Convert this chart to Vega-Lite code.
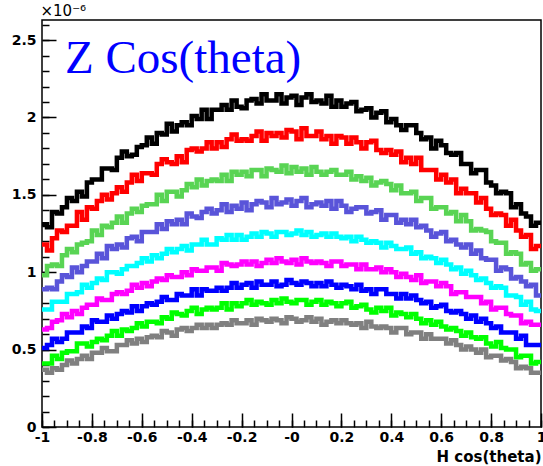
{
"$schema":"https://vega.github.io/schema/vega-lite/v6.json",
"width":499,"height":407,
"autosize":{"type":"none"},
"padding":{"left":42,"top":20,"right":2,"bottom":39},
"background":"white",
"title":{"text":"Z Cos(theta)","anchor":"start","frame":"group","orient":"top","offset":-57,"dx":23,"dy":60,"baseline":"alphabetic","font":"Liberation Serif","fontSize":47,"fontWeight":"normal","color":"#0000ff"},
"config":{"view":{"stroke":"black","strokeWidth":1.5}},
"datasets":{
"black":[{"x":-1,"y":1.31},{"x":-0.98,"y":1.29},{"x":-0.96,"y":1.39},{"x":-0.94,"y":1.38},{"x":-0.92,"y":1.42},{"x":-0.9,"y":1.48},{"x":-0.88,"y":1.46},{"x":-0.86,"y":1.52},{"x":-0.84,"y":1.49},{"x":-0.82,"y":1.58},{"x":-0.8,"y":1.60},{"x":-0.78,"y":1.60},{"x":-0.76,"y":1.67},{"x":-0.74,"y":1.67},{"x":-0.72,"y":1.66},{"x":-0.7,"y":1.74},{"x":-0.68,"y":1.78},{"x":-0.66,"y":1.75},{"x":-0.64,"y":1.76},{"x":-0.62,"y":1.81},{"x":-0.6,"y":1.82},{"x":-0.58,"y":1.87},{"x":-0.56,"y":1.83},{"x":-0.54,"y":1.90},{"x":-0.52,"y":1.89},{"x":-0.5,"y":1.96},{"x":-0.48,"y":1.91},{"x":-0.46,"y":1.95},{"x":-0.44,"y":1.97},{"x":-0.42,"y":1.95},{"x":-0.4,"y":2.01},{"x":-0.38,"y":1.99},{"x":-0.36,"y":2.05},{"x":-0.34,"y":1.99},{"x":-0.32,"y":2.05},{"x":-0.3,"y":2.05},{"x":-0.28,"y":2.08},{"x":-0.26,"y":2.05},{"x":-0.24,"y":2.11},{"x":-0.22,"y":2.07},{"x":-0.2,"y":2.06},{"x":-0.18,"y":2.11},{"x":-0.16,"y":2.12},{"x":-0.14,"y":2.09},{"x":-0.12,"y":2.15},{"x":-0.1,"y":2.11},{"x":-0.08,"y":2.11},{"x":-0.06,"y":2.15},{"x":-0.04,"y":2.09},{"x":-0.02,"y":2.13},{"x":0,"y":2.14},{"x":0.02,"y":2.08},{"x":0.04,"y":2.13},{"x":0.06,"y":2.15},{"x":0.08,"y":2.10},{"x":0.1,"y":2.11},{"x":0.12,"y":2.09},{"x":0.14,"y":2.14},{"x":0.16,"y":2.07},{"x":0.18,"y":2.11},{"x":0.2,"y":2.07},{"x":0.22,"y":2.09},{"x":0.24,"y":2.10},{"x":0.26,"y":2.04},{"x":0.28,"y":2.05},{"x":0.3,"y":2.06},{"x":0.32,"y":2.00},{"x":0.34,"y":2.03},{"x":0.36,"y":2.04},{"x":0.38,"y":1.97},{"x":0.4,"y":1.99},{"x":0.42,"y":1.95},{"x":0.44,"y":1.92},{"x":0.46,"y":1.95},{"x":0.48,"y":1.95},{"x":0.5,"y":1.90},{"x":0.52,"y":1.86},{"x":0.54,"y":1.87},{"x":0.56,"y":1.80},{"x":0.58,"y":1.85},{"x":0.6,"y":1.82},{"x":0.62,"y":1.77},{"x":0.64,"y":1.76},{"x":0.66,"y":1.77},{"x":0.68,"y":1.70},{"x":0.7,"y":1.70},{"x":0.72,"y":1.64},{"x":0.74,"y":1.66},{"x":0.76,"y":1.66},{"x":0.78,"y":1.58},{"x":0.8,"y":1.56},{"x":0.82,"y":1.51},{"x":0.84,"y":1.52},{"x":0.86,"y":1.51},{"x":0.88,"y":1.42},{"x":0.9,"y":1.44},{"x":0.92,"y":1.38},{"x":0.94,"y":1.36},{"x":0.96,"y":1.30},{"x":0.98,"y":1.32},{"x":1,"y":1.32}],
"red":[{"x":-1,"y":1.18},{"x":-0.98,"y":1.14},{"x":-0.96,"y":1.22},{"x":-0.94,"y":1.27},{"x":-0.92,"y":1.26},{"x":-0.9,"y":1.30},{"x":-0.88,"y":1.30},{"x":-0.86,"y":1.39},{"x":-0.84,"y":1.34},{"x":-0.82,"y":1.42},{"x":-0.8,"y":1.41},{"x":-0.78,"y":1.46},{"x":-0.76,"y":1.50},{"x":-0.74,"y":1.47},{"x":-0.72,"y":1.51},{"x":-0.7,"y":1.55},{"x":-0.68,"y":1.52},{"x":-0.66,"y":1.58},{"x":-0.64,"y":1.63},{"x":-0.62,"y":1.59},{"x":-0.6,"y":1.64},{"x":-0.58,"y":1.64},{"x":-0.56,"y":1.63},{"x":-0.54,"y":1.70},{"x":-0.52,"y":1.73},{"x":-0.5,"y":1.71},{"x":-0.48,"y":1.70},{"x":-0.46,"y":1.75},{"x":-0.44,"y":1.71},{"x":-0.42,"y":1.79},{"x":-0.4,"y":1.80},{"x":-0.38,"y":1.78},{"x":-0.36,"y":1.80},{"x":-0.34,"y":1.84},{"x":-0.32,"y":1.80},{"x":-0.3,"y":1.84},{"x":-0.28,"y":1.81},{"x":-0.26,"y":1.86},{"x":-0.24,"y":1.89},{"x":-0.22,"y":1.85},{"x":-0.2,"y":1.86},{"x":-0.18,"y":1.85},{"x":-0.16,"y":1.88},{"x":-0.14,"y":1.91},{"x":-0.12,"y":1.85},{"x":-0.1,"y":1.90},{"x":-0.08,"y":1.88},{"x":-0.06,"y":1.90},{"x":-0.04,"y":1.87},{"x":-0.02,"y":1.92},{"x":0,"y":1.91},{"x":0.02,"y":1.86},{"x":0.04,"y":1.93},{"x":0.06,"y":1.88},{"x":0.08,"y":1.88},{"x":0.1,"y":1.91},{"x":0.12,"y":1.86},{"x":0.14,"y":1.88},{"x":0.16,"y":1.83},{"x":0.18,"y":1.88},{"x":0.2,"y":1.87},{"x":0.22,"y":1.83},{"x":0.24,"y":1.87},{"x":0.26,"y":1.84},{"x":0.28,"y":1.80},{"x":0.3,"y":1.84},{"x":0.32,"y":1.85},{"x":0.34,"y":1.79},{"x":0.36,"y":1.77},{"x":0.38,"y":1.79},{"x":0.4,"y":1.76},{"x":0.42,"y":1.78},{"x":0.44,"y":1.71},{"x":0.46,"y":1.74},{"x":0.48,"y":1.70},{"x":0.5,"y":1.74},{"x":0.52,"y":1.66},{"x":0.54,"y":1.66},{"x":0.56,"y":1.66},{"x":0.58,"y":1.60},{"x":0.6,"y":1.63},{"x":0.62,"y":1.58},{"x":0.64,"y":1.60},{"x":0.66,"y":1.51},{"x":0.68,"y":1.54},{"x":0.7,"y":1.51},{"x":0.72,"y":1.51},{"x":0.74,"y":1.45},{"x":0.76,"y":1.48},{"x":0.78,"y":1.41},{"x":0.8,"y":1.37},{"x":0.82,"y":1.38},{"x":0.84,"y":1.37},{"x":0.86,"y":1.30},{"x":0.88,"y":1.34},{"x":0.9,"y":1.27},{"x":0.92,"y":1.23},{"x":0.94,"y":1.24},{"x":0.96,"y":1.15},{"x":0.98,"y":1.17},{"x":1,"y":1.17}],
"green8":[{"x":-1,"y":0.98},{"x":-0.98,"y":1.04},{"x":-0.96,"y":1.05},{"x":-0.94,"y":1.04},{"x":-0.92,"y":1.11},{"x":-0.9,"y":1.15},{"x":-0.88,"y":1.13},{"x":-0.86,"y":1.18},{"x":-0.84,"y":1.19},{"x":-0.82,"y":1.20},{"x":-0.8,"y":1.27},{"x":-0.78,"y":1.24},{"x":-0.76,"y":1.30},{"x":-0.74,"y":1.29},{"x":-0.72,"y":1.32},{"x":-0.7,"y":1.36},{"x":-0.68,"y":1.32},{"x":-0.66,"y":1.38},{"x":-0.64,"y":1.41},{"x":-0.62,"y":1.39},{"x":-0.6,"y":1.43},{"x":-0.58,"y":1.44},{"x":-0.56,"y":1.44},{"x":-0.54,"y":1.50},{"x":-0.52,"y":1.46},{"x":-0.5,"y":1.52},{"x":-0.48,"y":1.52},{"x":-0.46,"y":1.49},{"x":-0.44,"y":1.53},{"x":-0.42,"y":1.57},{"x":-0.4,"y":1.55},{"x":-0.38,"y":1.60},{"x":-0.36,"y":1.56},{"x":-0.34,"y":1.59},{"x":-0.32,"y":1.60},{"x":-0.3,"y":1.59},{"x":-0.28,"y":1.63},{"x":-0.26,"y":1.59},{"x":-0.24,"y":1.65},{"x":-0.22,"y":1.63},{"x":-0.2,"y":1.65},{"x":-0.18,"y":1.62},{"x":-0.16,"y":1.66},{"x":-0.14,"y":1.66},{"x":-0.12,"y":1.62},{"x":-0.1,"y":1.67},{"x":-0.08,"y":1.66},{"x":-0.06,"y":1.65},{"x":-0.04,"y":1.69},{"x":-0.02,"y":1.64},{"x":0,"y":1.68},{"x":0.02,"y":1.65},{"x":0.04,"y":1.67},{"x":0.06,"y":1.63},{"x":0.08,"y":1.68},{"x":0.1,"y":1.65},{"x":0.12,"y":1.63},{"x":0.14,"y":1.65},{"x":0.16,"y":1.66},{"x":0.18,"y":1.63},{"x":0.2,"y":1.63},{"x":0.22,"y":1.65},{"x":0.24,"y":1.60},{"x":0.26,"y":1.62},{"x":0.28,"y":1.59},{"x":0.3,"y":1.61},{"x":0.32,"y":1.56},{"x":0.34,"y":1.58},{"x":0.36,"y":1.59},{"x":0.38,"y":1.57},{"x":0.4,"y":1.53},{"x":0.42,"y":1.56},{"x":0.44,"y":1.51},{"x":0.46,"y":1.51},{"x":0.48,"y":1.52},{"x":0.5,"y":1.46},{"x":0.52,"y":1.48},{"x":0.54,"y":1.48},{"x":0.56,"y":1.41},{"x":0.58,"y":1.42},{"x":0.6,"y":1.42},{"x":0.62,"y":1.38},{"x":0.64,"y":1.39},{"x":0.66,"y":1.33},{"x":0.68,"y":1.37},{"x":0.7,"y":1.33},{"x":0.72,"y":1.27},{"x":0.74,"y":1.28},{"x":0.76,"y":1.27},{"x":0.78,"y":1.26},{"x":0.8,"y":1.20},{"x":0.82,"y":1.19},{"x":0.84,"y":1.19},{"x":0.86,"y":1.12},{"x":0.88,"y":1.13},{"x":0.9,"y":1.12},{"x":0.92,"y":1.05},{"x":0.94,"y":1.06},{"x":0.96,"y":1.01},{"x":0.98,"y":1.02},{"x":1,"y":1.02}],
"purple":[{"x":-1,"y":0.89},{"x":-0.98,"y":0.90},{"x":-0.96,"y":0.89},{"x":-0.94,"y":0.94},{"x":-0.92,"y":0.98},{"x":-0.9,"y":0.97},{"x":-0.88,"y":1.03},{"x":-0.86,"y":1.00},{"x":-0.84,"y":1.04},{"x":-0.82,"y":1.07},{"x":-0.8,"y":1.07},{"x":-0.78,"y":1.12},{"x":-0.76,"y":1.09},{"x":-0.74,"y":1.17},{"x":-0.72,"y":1.15},{"x":-0.7,"y":1.18},{"x":-0.68,"y":1.16},{"x":-0.66,"y":1.22},{"x":-0.64,"y":1.23},{"x":-0.62,"y":1.20},{"x":-0.6,"y":1.26},{"x":-0.58,"y":1.26},{"x":-0.56,"y":1.26},{"x":-0.54,"y":1.31},{"x":-0.52,"y":1.28},{"x":-0.5,"y":1.33},{"x":-0.48,"y":1.31},{"x":-0.46,"y":1.34},{"x":-0.44,"y":1.31},{"x":-0.42,"y":1.38},{"x":-0.4,"y":1.36},{"x":-0.38,"y":1.35},{"x":-0.36,"y":1.39},{"x":-0.34,"y":1.41},{"x":-0.32,"y":1.38},{"x":-0.3,"y":1.40},{"x":-0.28,"y":1.44},{"x":-0.26,"y":1.39},{"x":-0.24,"y":1.43},{"x":-0.22,"y":1.41},{"x":-0.2,"y":1.45},{"x":-0.18,"y":1.40},{"x":-0.16,"y":1.44},{"x":-0.14,"y":1.46},{"x":-0.12,"y":1.45},{"x":-0.1,"y":1.42},{"x":-0.08,"y":1.48},{"x":-0.06,"y":1.44},{"x":-0.04,"y":1.45},{"x":-0.02,"y":1.47},{"x":0,"y":1.43},{"x":0.02,"y":1.46},{"x":0.04,"y":1.48},{"x":0.06,"y":1.42},{"x":0.08,"y":1.44},{"x":0.1,"y":1.45},{"x":0.12,"y":1.43},{"x":0.14,"y":1.46},{"x":0.16,"y":1.41},{"x":0.18,"y":1.46},{"x":0.2,"y":1.43},{"x":0.22,"y":1.39},{"x":0.24,"y":1.41},{"x":0.26,"y":1.42},{"x":0.28,"y":1.42},{"x":0.3,"y":1.38},{"x":0.32,"y":1.39},{"x":0.34,"y":1.40},{"x":0.36,"y":1.34},{"x":0.38,"y":1.37},{"x":0.4,"y":1.37},{"x":0.42,"y":1.32},{"x":0.44,"y":1.34},{"x":0.46,"y":1.31},{"x":0.48,"y":1.34},{"x":0.5,"y":1.29},{"x":0.52,"y":1.30},{"x":0.54,"y":1.27},{"x":0.56,"y":1.23},{"x":0.58,"y":1.25},{"x":0.6,"y":1.26},{"x":0.62,"y":1.20},{"x":0.64,"y":1.21},{"x":0.66,"y":1.18},{"x":0.68,"y":1.16},{"x":0.7,"y":1.18},{"x":0.72,"y":1.12},{"x":0.74,"y":1.14},{"x":0.76,"y":1.09},{"x":0.78,"y":1.08},{"x":0.8,"y":1.08},{"x":0.82,"y":1.01},{"x":0.84,"y":1.03},{"x":0.86,"y":1.02},{"x":0.88,"y":0.96},{"x":0.9,"y":0.97},{"x":0.92,"y":0.94},{"x":0.94,"y":0.91},{"x":0.96,"y":0.92},{"x":0.98,"y":0.85},{"x":1,"y":0.85}],
"cyan":[{"x":-1,"y":0.76},{"x":-0.98,"y":0.76},{"x":-0.96,"y":0.81},{"x":-0.94,"y":0.81},{"x":-0.92,"y":0.81},{"x":-0.9,"y":0.86},{"x":-0.88,"y":0.86},{"x":-0.86,"y":0.87},{"x":-0.84,"y":0.92},{"x":-0.82,"y":0.90},{"x":-0.8,"y":0.93},{"x":-0.78,"y":0.96},{"x":-0.76,"y":0.95},{"x":-0.74,"y":1.00},{"x":-0.72,"y":1.00},{"x":-0.7,"y":0.99},{"x":-0.68,"y":1.02},{"x":-0.66,"y":1.04},{"x":-0.64,"y":1.04},{"x":-0.62,"y":1.06},{"x":-0.6,"y":1.09},{"x":-0.58,"y":1.07},{"x":-0.56,"y":1.11},{"x":-0.54,"y":1.09},{"x":-0.52,"y":1.12},{"x":-0.5,"y":1.15},{"x":-0.48,"y":1.13},{"x":-0.46,"y":1.15},{"x":-0.44,"y":1.17},{"x":-0.42,"y":1.14},{"x":-0.4,"y":1.18},{"x":-0.38,"y":1.18},{"x":-0.36,"y":1.21},{"x":-0.34,"y":1.18},{"x":-0.32,"y":1.18},{"x":-0.3,"y":1.22},{"x":-0.28,"y":1.21},{"x":-0.26,"y":1.24},{"x":-0.24,"y":1.21},{"x":-0.22,"y":1.24},{"x":-0.2,"y":1.21},{"x":-0.18,"y":1.23},{"x":-0.16,"y":1.25},{"x":-0.14,"y":1.23},{"x":-0.12,"y":1.26},{"x":-0.1,"y":1.25},{"x":-0.08,"y":1.23},{"x":-0.06,"y":1.26},{"x":-0.04,"y":1.26},{"x":-0.02,"y":1.24},{"x":0,"y":1.25},{"x":0.02,"y":1.27},{"x":0.04,"y":1.24},{"x":0.06,"y":1.26},{"x":0.08,"y":1.23},{"x":0.1,"y":1.24},{"x":0.12,"y":1.25},{"x":0.14,"y":1.23},{"x":0.16,"y":1.25},{"x":0.18,"y":1.23},{"x":0.2,"y":1.22},{"x":0.22,"y":1.23},{"x":0.24,"y":1.20},{"x":0.26,"y":1.23},{"x":0.28,"y":1.21},{"x":0.3,"y":1.19},{"x":0.32,"y":1.20},{"x":0.34,"y":1.19},{"x":0.36,"y":1.16},{"x":0.38,"y":1.19},{"x":0.4,"y":1.17},{"x":0.42,"y":1.15},{"x":0.44,"y":1.15},{"x":0.46,"y":1.16},{"x":0.48,"y":1.12},{"x":0.5,"y":1.13},{"x":0.52,"y":1.09},{"x":0.54,"y":1.10},{"x":0.56,"y":1.09},{"x":0.58,"y":1.06},{"x":0.6,"y":1.08},{"x":0.62,"y":1.05},{"x":0.64,"y":1.02},{"x":0.66,"y":1.03},{"x":0.68,"y":0.99},{"x":0.7,"y":1.01},{"x":0.72,"y":0.98},{"x":0.74,"y":0.95},{"x":0.76,"y":0.96},{"x":0.78,"y":0.93},{"x":0.8,"y":0.90},{"x":0.82,"y":0.91},{"x":0.84,"y":0.90},{"x":0.86,"y":0.85},{"x":0.88,"y":0.85},{"x":0.9,"y":0.84},{"x":0.92,"y":0.79},{"x":0.94,"y":0.81},{"x":0.96,"y":0.76},{"x":0.98,"y":0.75},{"x":1,"y":0.75}],
"magenta":[{"x":-1,"y":0.63},{"x":-0.98,"y":0.64},{"x":-0.96,"y":0.68},{"x":-0.94,"y":0.69},{"x":-0.92,"y":0.73},{"x":-0.9,"y":0.71},{"x":-0.88,"y":0.75},{"x":-0.86,"y":0.73},{"x":-0.84,"y":0.77},{"x":-0.82,"y":0.79},{"x":-0.8,"y":0.79},{"x":-0.78,"y":0.83},{"x":-0.76,"y":0.82},{"x":-0.74,"y":0.82},{"x":-0.72,"y":0.86},{"x":-0.7,"y":0.87},{"x":-0.68,"y":0.86},{"x":-0.66,"y":0.88},{"x":-0.64,"y":0.92},{"x":-0.62,"y":0.90},{"x":-0.6,"y":0.93},{"x":-0.58,"y":0.91},{"x":-0.56,"y":0.94},{"x":-0.54,"y":0.96},{"x":-0.52,"y":0.95},{"x":-0.5,"y":0.98},{"x":-0.48,"y":0.97},{"x":-0.46,"y":0.97},{"x":-0.44,"y":1.00},{"x":-0.42,"y":0.98},{"x":-0.4,"y":1.02},{"x":-0.38,"y":1.01},{"x":-0.36,"y":1.01},{"x":-0.34,"y":1.03},{"x":-0.32,"y":1.03},{"x":-0.3,"y":1.01},{"x":-0.28,"y":1.06},{"x":-0.26,"y":1.05},{"x":-0.24,"y":1.04},{"x":-0.22,"y":1.05},{"x":-0.2,"y":1.07},{"x":-0.18,"y":1.05},{"x":-0.16,"y":1.07},{"x":-0.14,"y":1.04},{"x":-0.12,"y":1.06},{"x":-0.1,"y":1.08},{"x":-0.08,"y":1.06},{"x":-0.06,"y":1.09},{"x":-0.04,"y":1.07},{"x":-0.02,"y":1.06},{"x":0,"y":1.08},{"x":0.02,"y":1.05},{"x":0.04,"y":1.09},{"x":0.06,"y":1.07},{"x":0.08,"y":1.06},{"x":0.1,"y":1.07},{"x":0.12,"y":1.06},{"x":0.14,"y":1.04},{"x":0.16,"y":1.07},{"x":0.18,"y":1.07},{"x":0.2,"y":1.04},{"x":0.22,"y":1.05},{"x":0.24,"y":1.05},{"x":0.26,"y":1.02},{"x":0.28,"y":1.05},{"x":0.3,"y":1.02},{"x":0.32,"y":1.02},{"x":0.34,"y":1.03},{"x":0.36,"y":1.00},{"x":0.38,"y":1.02},{"x":0.4,"y":1.00},{"x":0.42,"y":0.97},{"x":0.44,"y":0.99},{"x":0.46,"y":0.97},{"x":0.48,"y":0.95},{"x":0.5,"y":0.98},{"x":0.52,"y":0.93},{"x":0.54,"y":0.94},{"x":0.56,"y":0.94},{"x":0.58,"y":0.91},{"x":0.6,"y":0.93},{"x":0.62,"y":0.91},{"x":0.64,"y":0.86},{"x":0.66,"y":0.87},{"x":0.68,"y":0.87},{"x":0.7,"y":0.84},{"x":0.72,"y":0.84},{"x":0.74,"y":0.84},{"x":0.76,"y":0.80},{"x":0.78,"y":0.81},{"x":0.8,"y":0.76},{"x":0.82,"y":0.77},{"x":0.84,"y":0.77},{"x":0.86,"y":0.73},{"x":0.88,"y":0.72},{"x":0.9,"y":0.72},{"x":0.92,"y":0.67},{"x":0.94,"y":0.68},{"x":0.96,"y":0.66},{"x":0.98,"y":0.66},{"x":1,"y":0.66}],
"blue":[{"x":-1,"y":0.51},{"x":-0.98,"y":0.53},{"x":-0.96,"y":0.57},{"x":-0.94,"y":0.55},{"x":-0.92,"y":0.57},{"x":-0.9,"y":0.61},{"x":-0.88,"y":0.61},{"x":-0.86,"y":0.61},{"x":-0.84,"y":0.65},{"x":-0.82,"y":0.64},{"x":-0.8,"y":0.69},{"x":-0.78,"y":0.68},{"x":-0.76,"y":0.68},{"x":-0.74,"y":0.72},{"x":-0.72,"y":0.70},{"x":-0.7,"y":0.73},{"x":-0.68,"y":0.75},{"x":-0.66,"y":0.74},{"x":-0.64,"y":0.78},{"x":-0.62,"y":0.75},{"x":-0.6,"y":0.78},{"x":-0.58,"y":0.80},{"x":-0.56,"y":0.79},{"x":-0.54,"y":0.81},{"x":-0.52,"y":0.84},{"x":-0.5,"y":0.82},{"x":-0.48,"y":0.82},{"x":-0.46,"y":0.86},{"x":-0.44,"y":0.85},{"x":-0.42,"y":0.85},{"x":-0.4,"y":0.89},{"x":-0.38,"y":0.85},{"x":-0.36,"y":0.89},{"x":-0.34,"y":0.88},{"x":-0.32,"y":0.88},{"x":-0.3,"y":0.90},{"x":-0.28,"y":0.88},{"x":-0.26,"y":0.90},{"x":-0.24,"y":0.93},{"x":-0.22,"y":0.90},{"x":-0.2,"y":0.92},{"x":-0.18,"y":0.93},{"x":-0.16,"y":0.90},{"x":-0.14,"y":0.94},{"x":-0.12,"y":0.92},{"x":-0.1,"y":0.92},{"x":-0.08,"y":0.94},{"x":-0.06,"y":0.91},{"x":-0.04,"y":0.92},{"x":-0.02,"y":0.95},{"x":0,"y":0.93},{"x":0.02,"y":0.92},{"x":0.04,"y":0.94},{"x":0.06,"y":0.93},{"x":0.08,"y":0.91},{"x":0.1,"y":0.93},{"x":0.12,"y":0.91},{"x":0.14,"y":0.94},{"x":0.16,"y":0.92},{"x":0.18,"y":0.90},{"x":0.2,"y":0.92},{"x":0.22,"y":0.91},{"x":0.24,"y":0.89},{"x":0.26,"y":0.92},{"x":0.28,"y":0.88},{"x":0.3,"y":0.89},{"x":0.32,"y":0.86},{"x":0.34,"y":0.89},{"x":0.36,"y":0.89},{"x":0.38,"y":0.86},{"x":0.4,"y":0.86},{"x":0.42,"y":0.83},{"x":0.44,"y":0.86},{"x":0.46,"y":0.83},{"x":0.48,"y":0.85},{"x":0.5,"y":0.82},{"x":0.52,"y":0.80},{"x":0.54,"y":0.81},{"x":0.56,"y":0.77},{"x":0.58,"y":0.78},{"x":0.6,"y":0.79},{"x":0.62,"y":0.75},{"x":0.64,"y":0.74},{"x":0.66,"y":0.75},{"x":0.68,"y":0.73},{"x":0.7,"y":0.70},{"x":0.72,"y":0.72},{"x":0.74,"y":0.68},{"x":0.76,"y":0.70},{"x":0.78,"y":0.67},{"x":0.8,"y":0.64},{"x":0.82,"y":0.65},{"x":0.84,"y":0.61},{"x":0.86,"y":0.61},{"x":0.88,"y":0.61},{"x":0.9,"y":0.57},{"x":0.92,"y":0.59},{"x":0.94,"y":0.53},{"x":0.96,"y":0.53},{"x":0.98,"y":0.53},{"x":1,"y":0.53}],
"green":[{"x":-1,"y":0.41},{"x":-0.98,"y":0.41},{"x":-0.96,"y":0.46},{"x":-0.94,"y":0.44},{"x":-0.92,"y":0.48},{"x":-0.9,"y":0.49},{"x":-0.88,"y":0.49},{"x":-0.86,"y":0.54},{"x":-0.84,"y":0.54},{"x":-0.82,"y":0.52},{"x":-0.8,"y":0.55},{"x":-0.78,"y":0.57},{"x":-0.76,"y":0.56},{"x":-0.74,"y":0.59},{"x":-0.72,"y":0.62},{"x":-0.7,"y":0.59},{"x":-0.68,"y":0.63},{"x":-0.66,"y":0.62},{"x":-0.64,"y":0.64},{"x":-0.62,"y":0.67},{"x":-0.6,"y":0.65},{"x":-0.58,"y":0.68},{"x":-0.56,"y":0.68},{"x":-0.54,"y":0.67},{"x":-0.52,"y":0.71},{"x":-0.5,"y":0.70},{"x":-0.48,"y":0.74},{"x":-0.46,"y":0.73},{"x":-0.44,"y":0.72},{"x":-0.42,"y":0.75},{"x":-0.4,"y":0.77},{"x":-0.38,"y":0.73},{"x":-0.36,"y":0.76},{"x":-0.34,"y":0.77},{"x":-0.32,"y":0.76},{"x":-0.3,"y":0.77},{"x":-0.28,"y":0.80},{"x":-0.26,"y":0.76},{"x":-0.24,"y":0.80},{"x":-0.22,"y":0.78},{"x":-0.2,"y":0.80},{"x":-0.18,"y":0.82},{"x":-0.16,"y":0.79},{"x":-0.14,"y":0.81},{"x":-0.12,"y":0.80},{"x":-0.1,"y":0.79},{"x":-0.08,"y":0.82},{"x":-0.06,"y":0.80},{"x":-0.04,"y":0.83},{"x":-0.02,"y":0.81},{"x":0,"y":0.80},{"x":0.02,"y":0.82},{"x":0.04,"y":0.82},{"x":0.06,"y":0.79},{"x":0.08,"y":0.81},{"x":0.1,"y":0.82},{"x":0.12,"y":0.79},{"x":0.14,"y":0.81},{"x":0.16,"y":0.80},{"x":0.18,"y":0.78},{"x":0.2,"y":0.80},{"x":0.22,"y":0.81},{"x":0.24,"y":0.77},{"x":0.26,"y":0.78},{"x":0.28,"y":0.79},{"x":0.3,"y":0.76},{"x":0.32,"y":0.74},{"x":0.34,"y":0.77},{"x":0.36,"y":0.75},{"x":0.38,"y":0.77},{"x":0.4,"y":0.72},{"x":0.42,"y":0.74},{"x":0.44,"y":0.73},{"x":0.46,"y":0.71},{"x":0.48,"y":0.73},{"x":0.5,"y":0.70},{"x":0.52,"y":0.67},{"x":0.54,"y":0.69},{"x":0.56,"y":0.66},{"x":0.58,"y":0.68},{"x":0.6,"y":0.65},{"x":0.62,"y":0.63},{"x":0.64,"y":0.64},{"x":0.66,"y":0.62},{"x":0.68,"y":0.59},{"x":0.7,"y":0.61},{"x":0.72,"y":0.58},{"x":0.74,"y":0.57},{"x":0.76,"y":0.58},{"x":0.78,"y":0.54},{"x":0.8,"y":0.52},{"x":0.82,"y":0.55},{"x":0.84,"y":0.51},{"x":0.86,"y":0.50},{"x":0.88,"y":0.50},{"x":0.9,"y":0.45},{"x":0.92,"y":0.46},{"x":0.94,"y":0.46},{"x":0.96,"y":0.41},{"x":0.98,"y":0.42},{"x":1,"y":0.42}],
"gray":[{"x":-1,"y":0.37},{"x":-0.98,"y":0.35},{"x":-0.96,"y":0.38},{"x":-0.94,"y":0.37},{"x":-0.92,"y":0.40},{"x":-0.9,"y":0.43},{"x":-0.88,"y":0.41},{"x":-0.86,"y":0.44},{"x":-0.84,"y":0.46},{"x":-0.82,"y":0.44},{"x":-0.8,"y":0.48},{"x":-0.78,"y":0.48},{"x":-0.76,"y":0.51},{"x":-0.74,"y":0.49},{"x":-0.72,"y":0.49},{"x":-0.7,"y":0.53},{"x":-0.68,"y":0.53},{"x":-0.66,"y":0.56},{"x":-0.64,"y":0.54},{"x":-0.62,"y":0.57},{"x":-0.6,"y":0.55},{"x":-0.58,"y":0.58},{"x":-0.56,"y":0.59},{"x":-0.54,"y":0.58},{"x":-0.52,"y":0.62},{"x":-0.5,"y":0.61},{"x":-0.48,"y":0.59},{"x":-0.46,"y":0.63},{"x":-0.44,"y":0.64},{"x":-0.42,"y":0.62},{"x":-0.4,"y":0.64},{"x":-0.38,"y":0.66},{"x":-0.36,"y":0.64},{"x":-0.34,"y":0.66},{"x":-0.32,"y":0.64},{"x":-0.3,"y":0.66},{"x":-0.28,"y":0.67},{"x":-0.26,"y":0.66},{"x":-0.24,"y":0.69},{"x":-0.22,"y":0.67},{"x":-0.2,"y":0.67},{"x":-0.18,"y":0.69},{"x":-0.16,"y":0.66},{"x":-0.14,"y":0.70},{"x":-0.12,"y":0.69},{"x":-0.1,"y":0.68},{"x":-0.08,"y":0.70},{"x":-0.06,"y":0.69},{"x":-0.04,"y":0.67},{"x":-0.02,"y":0.71},{"x":0,"y":0.70},{"x":0.02,"y":0.68},{"x":0.04,"y":0.69},{"x":0.06,"y":0.71},{"x":0.08,"y":0.68},{"x":0.1,"y":0.70},{"x":0.12,"y":0.66},{"x":0.14,"y":0.68},{"x":0.16,"y":0.69},{"x":0.18,"y":0.67},{"x":0.2,"y":0.69},{"x":0.22,"y":0.67},{"x":0.24,"y":0.66},{"x":0.26,"y":0.67},{"x":0.28,"y":0.64},{"x":0.3,"y":0.68},{"x":0.32,"y":0.65},{"x":0.34,"y":0.64},{"x":0.36,"y":0.65},{"x":0.38,"y":0.64},{"x":0.4,"y":0.61},{"x":0.42,"y":0.64},{"x":0.44,"y":0.64},{"x":0.46,"y":0.60},{"x":0.48,"y":0.61},{"x":0.5,"y":0.61},{"x":0.52,"y":0.57},{"x":0.54,"y":0.60},{"x":0.56,"y":0.57},{"x":0.58,"y":0.57},{"x":0.6,"y":0.57},{"x":0.62,"y":0.54},{"x":0.64,"y":0.56},{"x":0.66,"y":0.53},{"x":0.68,"y":0.50},{"x":0.7,"y":0.52},{"x":0.72,"y":0.50},{"x":0.74,"y":0.48},{"x":0.76,"y":0.50},{"x":0.78,"y":0.45},{"x":0.8,"y":0.46},{"x":0.82,"y":0.46},{"x":0.84,"y":0.43},{"x":0.86,"y":0.44},{"x":0.88,"y":0.42},{"x":0.9,"y":0.38},{"x":0.92,"y":0.39},{"x":0.94,"y":0.38},{"x":0.96,"y":0.35},{"x":0.98,"y":0.35},{"x":1,"y":0.35}]
},
"encoding":{
"x":{"field":"x","type":"quantitative","scale":{"domain":[-1,1],"nice":false,"zero":false},"axis":null},
"y":{"field":"y","type":"quantitative","scale":{"domain":[0,2.63],"nice":false},"axis":null}
},
"layer":[
{"data":{"name":"black"},"mark":{"type":"line","interpolate":"step-after","strokeWidth":4.5,"color":"#000000"},
"encoding":{
"x":{"field":"x","type":"quantitative","scale":{"domain":[-1,1],"nice":false,"zero":false},
"axis":{"orient":"bottom","values":[-1,-0.8,-0.6,-0.4,-0.2,0,0.2,0.4,0.6,0.8,1],"tickSize":-14,"tickWidth":1.5,"tickColor":"black","domain":false,"grid":false,"labelFont":"DejaVu Sans","labelFontWeight":"bold","labelFontSize":14,"labelColor":"black","labelPadding":17,"labelFlush":false,"labelOverlap":false,"labelExpr":"datum.value == 0 ? '-0' : replace(format(datum.value, '~g'), '−', '-')","title":"H cos(theta)","titleFont":"DejaVu Sans","titleFontWeight":"bold","titleFontSize":15,"titleColor":"black","titleAnchor":"end","titleAlign":"right","titleBaseline":"alphabetic","titleX":499,"titleY":34}},
"y":{"field":"y","type":"quantitative","scale":{"domain":[0,2.63],"nice":false},
"axis":{"orient":"left","values":[0,0.5,1,1.5,2,2.5],"tickSize":-14,"tickWidth":1.5,"tickColor":"black","domain":false,"grid":false,"labelFont":"DejaVu Sans","labelFontWeight":"bold","labelFontSize":14,"labelColor":"black","labelPadding":20,"labelFlush":false,"labelOverlap":false,"format":"~g","title":"×10⁻⁶","titleAngle":0,"titleFont":"DejaVu Sans","titleFontWeight":"normal","titleFontSize":15,"titleColor":"black","titleAlign":"left","titleBaseline":"alphabetic","titleX":-2,"titleY":-5}}
}},
{"data":{"name":"red"},"mark":{"type":"line","interpolate":"step-after","strokeWidth":4.5,"color":"#ff0000"},
"encoding":{
"x":{"field":"x","type":"quantitative","scale":{"domain":[-1,1],"nice":false,"zero":false},
"axis":{"orient":"bottom","values":[-1,-0.95,-0.9,-0.85,-0.8,-0.75,-0.7,-0.65,-0.6,-0.55,-0.5,-0.45,-0.4,-0.35,-0.3,-0.25,-0.2,-0.15,-0.1,-0.05,0,0.05,0.1,0.15,0.2,0.25,0.3,0.35,0.4,0.45,0.5,0.55,0.6,0.65,0.7,0.75,0.8,0.85,0.9,0.95,1],"tickSize":-7,"tickWidth":1.5,"tickColor":"black","domain":false,"grid":false,"labels":false,"title":null}},
"y":{"field":"y","type":"quantitative","scale":{"domain":[0,2.63],"nice":false},
"axis":{"orient":"left","values":[0,0.1,0.2,0.3,0.4,0.5,0.6,0.7,0.8,0.9,1,1.1,1.2,1.3,1.4,1.5,1.6,1.7,1.8,1.9,2,2.1,2.2,2.3,2.4,2.5,2.6],"tickSize":-7,"tickWidth":1.5,"tickColor":"black","domain":false,"grid":false,"labels":false,"title":null}}
}},
{"data":{"name":"green8"},"mark":{"type":"line","interpolate":"step-after","strokeWidth":4.5,"color":"#59d454"}},
{"data":{"name":"purple"},"mark":{"type":"line","interpolate":"step-after","strokeWidth":4.5,"color":"#5954d9"}},
{"data":{"name":"cyan"},"mark":{"type":"line","interpolate":"step-after","strokeWidth":4.5,"color":"#00ffff"}},
{"data":{"name":"magenta"},"mark":{"type":"line","interpolate":"step-after","strokeWidth":4.5,"color":"#ff00ff"}},
{"data":{"name":"blue"},"mark":{"type":"line","interpolate":"step-after","strokeWidth":4.5,"color":"#0000ff"}},
{"data":{"name":"green"},"mark":{"type":"line","interpolate":"step-after","strokeWidth":4.5,"color":"#00ff00"}},
{"data":{"name":"gray"},"mark":{"type":"line","interpolate":"step-after","strokeWidth":4.5,"color":"#808080"}}
],
"resolve":{"axis":{"x":"independent","y":"independent"}}
}
